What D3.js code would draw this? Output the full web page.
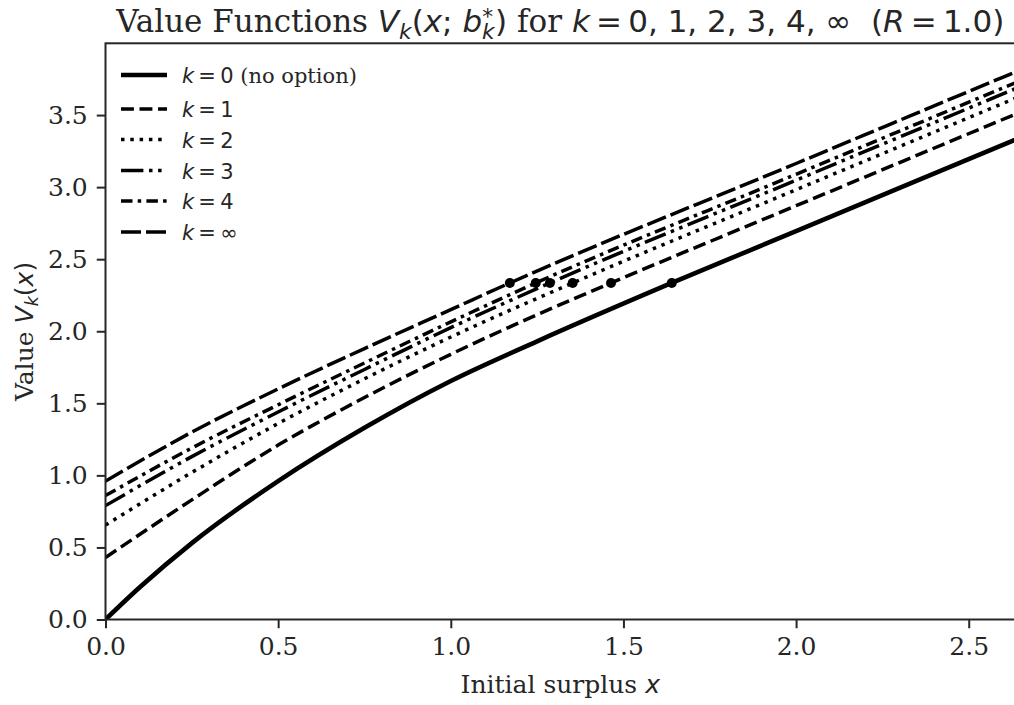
<!DOCTYPE html>
<html>
  <head>
    <meta charset="utf-8">
    <title>Value functions</title>
    <script src="https://cdn.jsdelivr.net/npm/d3@7"></script>
    <style>
      body { margin: 0; background: #fff; }
      svg { display: block; }
      text { fill: #262626; white-space: pre; }
    </style>
  </head>
  <body>
    <svg id="chart"></svg>

    <script>
      // values
      const kLabels = ["0", "1", "2", "3", "4", "∞"];
      const k0x = [0, 0.1, 0.25, 0.5, 0.75, 1.0, 1.25, 1.64, 2.0, 2.7];
      const k0y = [0, 0.225, 0.53, 0.96, 1.33, 1.655, 1.93, 2.335, 2.695, 3.395];
      const k1x = [0, 0.25, 0.5, 0.75, 1.0, 1.25, 1.464, 2.0, 2.7];
      const k1y = [0.43, 0.83, 1.21, 1.54, 1.84, 2.115, 2.335, 2.871, 3.571];
      const k2x = [0, 0.25, 0.5, 0.75, 1.0, 1.353, 2.0, 2.7];
      const k2y = [0.655, 1.02, 1.36, 1.67, 1.96, 2.335, 2.982, 3.682];
      const k3x = [0, 0.25, 0.5, 0.75, 1.0, 1.287, 2.0, 2.7];
      const k3y = [0.79, 1.13, 1.44, 1.735, 2.025, 2.335, 3.048, 3.748];
      const k4x = [0, 0.25, 0.5, 0.75, 1.0, 1.246, 2.0, 2.7];
      const k4y = [0.86, 1.19, 1.49, 1.78, 2.065, 2.335, 3.089, 3.789];
      const kInfx = [0, 0.25, 0.5, 0.75, 1.0, 1.171, 2.0, 2.7];
      const kInfy = [0.96, 1.30, 1.60, 1.88, 2.15, 2.335, 3.164, 3.864];
      // optimal barriers b*_k and the value there
      const bStar = [1.64, 1.464, 1.353, 1.287, 1.246, 1.171];
      const vStar = [2.335, 2.335, 2.335, 2.335, 2.335, 2.335];
      const xTicks = [0, 0.5, 1.0, 1.5, 2.0, 2.5];
      const yTicks = [0, 0.5, 1.0, 1.5, 2.0, 2.5, 3.0, 3.5];

      const seriesX = [k0x, k1x, k2x, k3x, k4x, kInfx];
      const seriesY = [k0y, k1y, k2y, k3y, k4y, kInfy];

      // line styles (matplotlib-ish dash patterns, in px)
      const lineWidths = [4.6, 3.5, 3.5, 3.5, 3.5, 3.5];
      const dashes = [null, "12.9,5.6", "3.5,5.8", "22.4,5.6,3.5,5.6,3.5,5.6", "11.5,5.2,3.5,5.2", "20,5"];

      const width = 1014, height = 705;
      const axLeft = 105.5, axRight = 1015, axTop = 43.3, axBottom = 619.5;
      const serif = "DejaVu Serif", sans = "DejaVu Sans";
      const thin = "\u2009";

      const svg = d3.select("#chart")
        .attr("width", width)
        .attr("height", height);

      const x = d3.scaleLinear().domain([0, 2.634]).range([axLeft, axRight]);
      const y = d3.scaleLinear().domain([0, 3.998]).range([axBottom, axTop]);

      // writes a run of mixed serif / math text into a text element
      function addRuns(sel, runs) {
        runs.forEach(function(r) {
          const t = sel.append("tspan")
            .text(r.t)
            .attr("font-family", r.f || sans)
            .attr("font-style", r.i ? "italic" : "normal");
          if (r.s) t.attr("font-size", r.s);
          if (r.dx) t.attr("dx", r.dx);
          if (r.dy) t.attr("dy", r.dy);
        });
      }

      svg.append("clipPath")
        .attr("id", "plotClip")
        .append("rect")
          .attr("x", axLeft)
          .attr("y", axTop)
          .attr("width", axRight - axLeft)
          .attr("height", axBottom - axTop);

      // curves
      const line = d3.line()
        .x(function(d) { return x(d[0]); })
        .y(function(d) { return y(d[1]); })
        .curve(d3.curveMonotoneX);

      const curves = svg.append("g").attr("clip-path", "url(#plotClip)");
      seriesX.forEach(function(xs, i) {
        curves.append("path")
          .datum(xs.map(function(v, j) { return [v, seriesY[i][j]]; }))
          .attr("d", line)
          .attr("fill", "none")
          .attr("stroke", "#000")
          .attr("stroke-width", lineWidths[i])
          .attr("stroke-dasharray", dashes[i]);
      });

      // barrier markers
      curves.selectAll("circle")
        .data(bStar)
        .enter().append("circle")
          .attr("cx", function(d) { return x(d); })
          .attr("cy", function(d, i) { return y(vStar[i]); })
          .attr("r", 5)
          .attr("fill", "#000");

      // axes
      const xAxis = svg.append("g")
        .attr("transform", "translate(0," + axBottom + ")")
        .call(d3.axisBottom(x).tickValues(xTicks).tickFormat(d3.format(".1f"))
          .tickSize(8.75).tickPadding(9).tickSizeOuter(0));
      const yAxis = svg.append("g")
        .attr("transform", "translate(" + axLeft + ",0)")
        .call(d3.axisLeft(y).tickValues(yTicks).tickFormat(d3.format(".1f"))
          .tickSize(8.75).tickPadding(9).tickSizeOuter(0));
      [xAxis, yAxis].forEach(function(a) {
        a.select(".domain").remove();
        a.selectAll(".tick line").attr("stroke", "#262626").attr("stroke-width", 2);
        a.selectAll(".tick text")
          .attr("font-family", serif)
          .attr("font-size", 25)
          .attr("fill", "#262626");
      });

      // spines
      svg.append("rect")
        .attr("x", axLeft)
        .attr("y", axTop)
        .attr("width", axRight - axLeft)
        .attr("height", axBottom - axTop)
        .attr("fill", "none")
        .attr("stroke", "#262626")
        .attr("stroke-width", 2);

      // title
      const title = svg.append("text")
        .attr("x", (axLeft + axRight) / 2)
        .attr("y", 31.5)
        .attr("text-anchor", "middle")
        .attr("font-size", 31);
      addRuns(title, [
        { t: "Value Functions ", f: serif },
        { t: "V", i: true },
        { t: "k", i: true, s: 21.7, dy: 7 },
        { t: "(", dy: -7 },
        { t: "x", i: true },
        { t: "; " },
        { t: "b", i: true },
        { t: "k", i: true, s: 21.7, dy: 7 },
        { t: "*", s: 21.7, dx: -12.4, dy: -15 },
        { t: ")", dx: 2, dy: 8 },
        { t: " for ", f: serif },
        { t: "k", i: true },
        { t: thin + "=" + thin + "0, 1, 2, 3, 4, ∞  (" },
        { t: "R", i: true },
        { t: thin + "=" + thin + "1.0)" }
      ]);

      // axis labels
      const xLabel = svg.append("text")
        .attr("x", (axLeft + axRight) / 2)
        .attr("y", 693)
        .attr("text-anchor", "middle")
        .attr("font-size", 25);
      addRuns(xLabel, [
        { t: "Initial surplus ", f: serif },
        { t: "x", i: true }
      ]);

      const yLabel = svg.append("text")
        .attr("transform", "translate(33," + (axTop + axBottom) / 2 + ") rotate(-90)")
        .attr("text-anchor", "middle")
        .attr("font-size", 25);
      addRuns(yLabel, [
        { t: "Value ", f: serif },
        { t: "V", i: true },
        { t: "k", i: true, s: 17.5, dy: 5 },
        { t: "(", dy: -5 },
        { t: "x", i: true },
        { t: ")" }
      ]);

      // legend
      const rows = [75, 109, 139.5, 170.5, 201, 232];
      const legend = svg.append("g");
      kLabels.forEach(function(k, i) {
        legend.append("line")
          .attr("x1", 121)
          .attr("x2", 167)
          .attr("y1", rows[i])
          .attr("y2", rows[i])
          .attr("stroke", "#000")
          .attr("stroke-width", lineWidths[i])
          .attr("stroke-dasharray", dashes[i]);
        const t = legend.append("text")
          .attr("x", 182)
          .attr("y", rows[i] + 8)
          .attr("font-size", 21);
        const runs = [{ t: "k", i: true }, { t: thin + "=" + thin + k }];
        if (i === 0) runs.push({ t: " (no option)", f: serif });
        addRuns(t, runs);
      });
    </script>
  </body>
</html>
